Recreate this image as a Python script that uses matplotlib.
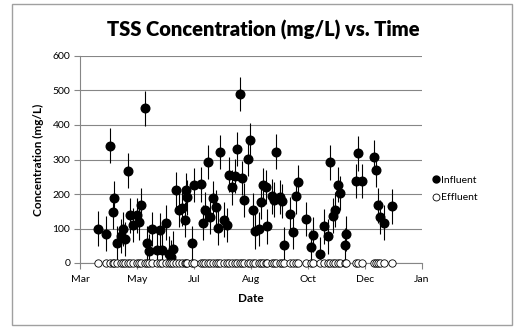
import matplotlib.pyplot as plt
import matplotlib.dates as mdates
import numpy as np
import pandas as pd
from matplotlib.lines import Line2D
from matplotlib.patches import Rectangle

# Datos (fechas de muestreo)
dates = ['2013-04-10', '2013-04-18', '2013-04-21', '2013-04-24', '2013-04-25', '2013-04-28',
         '2013-05-01', '2013-05-03', '2013-05-05', '2013-05-08', '2013-05-10', '2013-05-12',
         '2013-05-16', '2013-05-18', '2013-05-20', '2013-05-23', '2013-05-25', '2013-05-27',
         '2013-05-30', '2013-06-03', '2013-06-06', '2013-06-08', '2013-06-11', '2013-06-14',
         '2013-06-16', '2013-06-18', '2013-06-21', '2013-06-23', '2013-06-26', '2013-06-29',
         '2013-06-30', '2013-07-01', '2013-07-05', '2013-07-07', '2013-07-13', '2013-07-15',
         '2013-07-17', '2013-07-20', '2013-07-22', '2013-07-24', '2013-07-27', '2013-07-29',
         '2013-07-31', '2013-08-03', '2013-08-06', '2013-08-08', '2013-08-11', '2013-08-13',
         '2013-08-15', '2013-08-18', '2013-08-20', '2013-08-22', '2013-08-25', '2013-08-27',
         '2013-08-30', '2013-09-01', '2013-09-04', '2013-09-06', '2013-09-08', '2013-09-11',
         '2013-09-12', '2013-09-16', '2013-09-18', '2013-09-20', '2013-09-23', '2013-09-25',
         '2013-09-27', '2013-10-03', '2013-10-05', '2013-10-08', '2013-10-10', '2013-10-17',
         '2013-10-22', '2013-10-24', '2013-10-30', '2013-11-03', '2013-11-06', '2013-11-08',
         '2013-11-11', '2013-11-13', '2013-11-15', '2013-11-17', '2013-11-22', '2013-11-23',
         '2013-12-02', '2013-12-04', '2013-12-07', '2013-12-18', '2013-12-20', '2013-12-22',
         '2013-12-24', '2013-12-27', '2014-01-04']

influent = [100, 85, 340, 148, 188, 58, 78, 98, 70, 268,
            138, 110, 138, 118, 168, 448, 57, 34, 98, 39,
            95, 38, 117, 27, 18, 42, 213, 153, 158, 126,
            211, 190, 57, 226, 228, 117, 155, 293, 133, 188,
            163, 101, 322, 126, 110, 256, 219, 252, 330, 490,
            247, 182, 302, 357, 153, 92, 98, 177, 225, 220,
            106, 193, 184, 323, 192, 180, 53, 142, 91, 193,
            234, 128, 46, 82, 26, 106, 77, 292, 137, 155,
            227, 203, 52, 85, 238, 318, 238, 307, 269, 167,
            133, 117, 164]

effluent = [0, 0, 0, 0, 0, 0, 0, 0, 0, 0,
            0, 0, 0, 0, 0, 0, 0, 0, 0, 0,
            0, 0, 0, 0, 0, 0, 0, 0, 0, 0,
            0, 0, 0, 0, 0, 0, 0, 0, 0, 0,
            0, 0, 0, 0, 0, 0, 0, 0, 0, 0,
            0, 0, 0, 0, 0, 0, 0, 0, 0, 0,
            0, 0, 0, 0, 0, 0, 0, 0, 0, 0,
            0, 0, 0, 0, 0, 0, 0, 0, 0, 0,
            0, 0, 0, 0, 0, 0, 0, 0, 0, 0,
            0, 0, 0]

influent_err = 50  # barra de error constante (mg/L)

tick_dates = ['2013-03-25', '2013-05-16', '2013-07-07', '2013-08-28',
              '2013-10-19', '2013-12-10', '2014-01-31']

plt.rcParams['font.family'] = ['Lato', 'DejaVu Sans']
gray = '#868686'

x = pd.to_datetime(dates)
ticks = pd.to_datetime(tick_dates)

fig = plt.figure(figsize=(5.14, 3.33), dpi=100)
ax = fig.add_axes([80/514, 1-263/333, 342/514, 207/333])

ax.errorbar(x, influent, yerr=influent_err, fmt='o', color='black', ms=6.2,
            elinewidth=0.8, capsize=0, zorder=3)
ax.plot(x, effluent, 'o', mfc='white', mec='black', mew=0.6, ms=5.3,
        linestyle='none', clip_on=False, zorder=4)

ax.set_xlim(ticks[0], ticks[-1])
ax.set_ylim(0, 600)
ax.set_xticks(ticks)
ax.xaxis.set_major_formatter(mdates.DateFormatter('%b'))
ax.set_yticks(np.arange(0, 601, 100))

ax.grid(axis='y', color=gray, lw=0.8)
ax.set_axisbelow(True)
for s in ['top', 'right']:
    ax.spines[s].set_visible(False)
for s in ['left', 'bottom']:
    ax.spines[s].set_color(gray)
    ax.spines[s].set_linewidth(0.8)
ax.tick_params(axis='y', length=4, color=gray, labelsize=7.5, pad=3)
ax.tick_params(axis='x', length=4, color=gray, labelsize=7.5, pad=5)

ax.set_xlabel('Date', fontsize=8.5, fontweight='bold', labelpad=6)
ax.set_ylabel('Concentration (mg/L)', fontsize=8.5, fontweight='bold', labelpad=6)
fig.text(263/514, 1-30/333, 'TSS Concentration (mg/L) vs. Time', ha='center',
         va='center', fontsize=14.5, fontweight='heavy')

handles = [Line2D([], [], marker='o', color='black', ls='none', ms=5),
           Line2D([], [], marker='o', mfc='white', mec='black', mew=0.6, ls='none', ms=5)]
fig.legend(handles, ['Influent', 'Effluent'], loc='upper left',
           bbox_to_anchor=(424/514, 1-166/333), frameon=False, fontsize=7.5,
           handlelength=0.5, handletextpad=0.2, labelspacing=0.8)

fig.patches.append(Rectangle((12/514, 1-325/333), 500/514, 321/333,
                             transform=fig.transFigure, fill=False,
                             edgecolor='#a0a0a0', lw=1))

fig.savefig('out.png', dpi=100)
